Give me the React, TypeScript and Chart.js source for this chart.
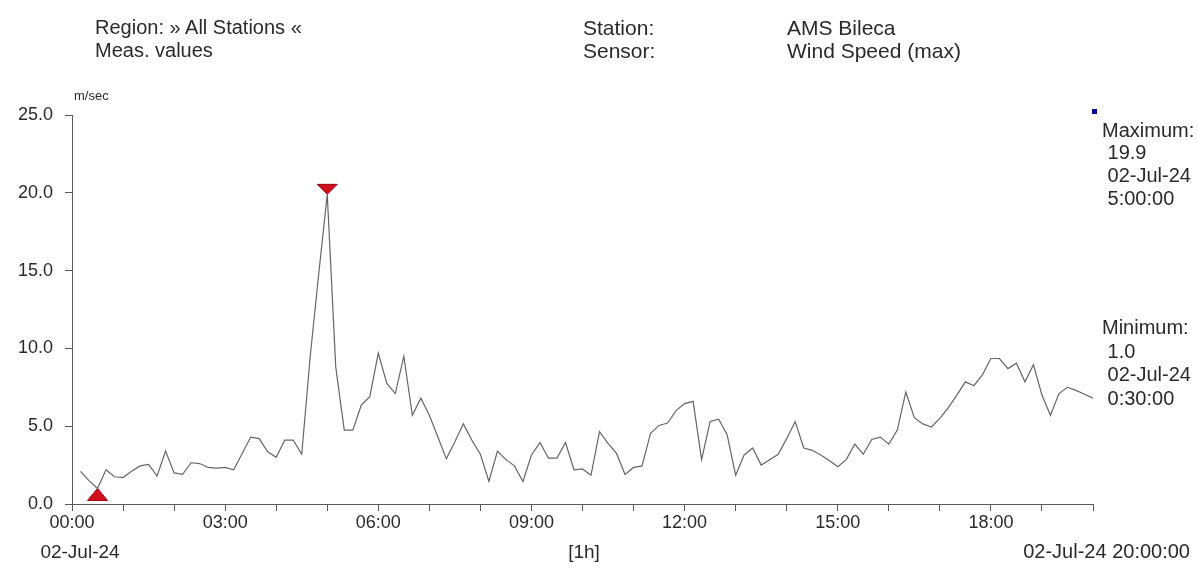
import React, { useEffect, useRef } from "react";
import { Chart, registerables } from "chart.js";

Chart.register(...registerables);

// ---- data ----
const times: string[] = [
  "00:10","00:20","00:30","00:40","00:50","01:00","01:10","01:20","01:30","01:40","01:50","02:00",
  "02:10","02:20","02:30","02:40","02:50","03:00","03:10","03:20","03:30","03:40","03:50","04:00",
  "04:10","04:20","04:30","04:40","04:50","05:00","05:10","05:20","05:30","05:40","05:50","06:00",
  "06:10","06:20","06:30","06:40","06:50","07:00","07:10","07:20","07:30","07:40","07:50","08:00",
  "08:10","08:20","08:30","08:40","08:50","09:00","09:10","09:20","09:30","09:40","09:50","10:00",
  "10:10","10:20","10:30","10:40","10:50","11:00","11:10","11:20","11:30","11:40","11:50","12:00",
  "12:10","12:20","12:30","12:40","12:50","13:00","13:10","13:20","13:30","13:40","13:50","14:00",
  "14:10","14:20","14:30","14:40","14:50","15:00","15:10","15:20","15:30","15:40","15:50","16:00",
  "16:10","16:20","16:30","16:40","16:50","17:00","17:10","17:20","17:30","17:40","17:50","18:00",
  "18:10","18:20","18:30","18:40","18:50","19:00","19:10","19:20","19:30","19:40","19:50","20:00",
];

const windSpeed: number[] = [
  2.1, 1.5, 1.0, 2.2, 1.75, 1.7, 2.1, 2.45, 2.55, 1.8, 3.4, 2.0,
  1.9, 2.65, 2.6, 2.35, 2.3, 2.35, 2.2, 3.25, 4.3, 4.2, 3.35, 3.0,
  4.1, 4.1, 3.2, 9.5, 14.8, 19.9, 8.8, 4.75, 4.75, 6.35, 6.9, 9.7,
  7.75, 7.1, 9.5, 5.7, 6.8, 5.7, 4.3, 2.9, 4.0, 5.15, 4.1, 3.2,
  1.45, 3.4, 2.85, 2.45, 1.45, 3.15, 3.95, 2.95, 2.95, 3.95, 2.2, 2.25,
  1.85, 4.65, 3.9, 3.25, 1.9, 2.35, 2.45, 4.55, 5.05, 5.2, 6.0, 6.45,
  6.6, 2.85, 5.3, 5.45, 4.45, 1.85, 3.15, 3.6, 2.5, 2.85, 3.2, 4.2,
  5.3, 3.6, 3.45, 3.15, 2.8, 2.4, 2.85, 3.85, 3.2, 4.15, 4.3, 3.85,
  4.75, 7.2, 5.55, 5.15, 4.95, 5.5, 6.2, 7.0, 7.85, 7.6, 8.3, 9.35,
  9.35, 8.7, 9.05, 7.85, 8.95, 7.0, 5.7, 7.1, 7.5, 7.3, 7.05, 6.8,
];

const xTickLabels: string[] = ["00:00", "03:00", "06:00", "09:00", "12:00", "15:00", "18:00"];
const yTickValues: number[] = [0, 5, 10, 15, 20, 25];

const headerLeft: string[] = ["Region: » All Stations «", "Meas. values"];
const headerKeys: string[] = ["Station:", "Sensor:"];
const headerValues: string[] = ["AMS Bileca", "Wind Speed (max)"];
const maxInfo: string[] = ["Maximum:", " 19.9", " 02-Jul-24", " 5:00:00"];
const minInfo: string[] = ["Minimum:", " 1.0", " 02-Jul-24", " 0:30:00"];
const unitLabel = "m/sec";
const bottomLabels: string[] = ["02-Jul-24", "[1h]", "02-Jul-24 20:00:00"];

const toMinutes = (t: string) => {
  const [h, m] = t.split(":").map(Number);
  return h * 60 + m;
};

const FONT = '"Liberation Sans", Arial, sans-serif';
const TXT = "#2a2a2a";
const AXIS = "#5a5a5a";

const markerPlugin = {
  id: "minMaxMarkers",
  afterDatasetsDraw(chart: any) {
    const { ctx, scales, chartArea } = chart;
    const xs = scales.x;
    const ys = scales.y;
    let iMax = 0;
    let iMin = 0;
    windSpeed.forEach((v, i) => {
      if (v > windSpeed[iMax]) iMax = i;
      if (v < windSpeed[iMin]) iMin = i;
    });
    ctx.save();
    const mx = xs.getPixelForValue(toMinutes(times[iMax]));
    const my = ys.getPixelForValue(windSpeed[iMax]);
    ctx.fillStyle = "#d0121b";
    ctx.strokeStyle = "#a00010";
    ctx.lineWidth = 1;
    ctx.beginPath();
    ctx.moveTo(mx - 10, my - 10);
    ctx.lineTo(mx + 10, my - 10);
    ctx.lineTo(mx, my);
    ctx.closePath();
    ctx.fill();
    ctx.stroke();
    const nx = xs.getPixelForValue(toMinutes(times[iMin]));
    const ny = ys.getPixelForValue(windSpeed[iMin]);
    ctx.beginPath();
    ctx.moveTo(nx - 10, ny + 12);
    ctx.lineTo(nx + 10, ny + 12);
    ctx.lineTo(nx, ny);
    ctx.closePath();
    ctx.fill();
    ctx.stroke();
    ctx.fillStyle = "#0a0a9a";
    ctx.fillRect(chartArea.right - 1, chartArea.top - 6, 5, 5);
    ctx.restore();
  },
};

function Txt(props: { x: number; y: number; text: string; size?: number; align?: "left" | "center" | "right" }) {
  const size = props.size ?? 20;
  const lh = Math.round(size * 1.2);
  const style: React.CSSProperties = {
    position: "absolute",
    top: props.y - lh / 2,
    fontFamily: FONT,
    fontSize: size,
    lineHeight: `${lh}px`,
    color: TXT,
    whiteSpace: "pre",
  };
  if (props.align === "center") {
    style.left = props.x - 200;
    style.width = 400;
    style.textAlign = "center";
  } else if (props.align === "right") {
    style.left = props.x - 400;
    style.width = 400;
    style.textAlign = "right";
  } else {
    style.left = props.x;
  }
  return <div style={style}>{props.text}</div>;
}

export default function App() {
  const canvasRef = useRef<HTMLCanvasElement | null>(null);

  useEffect(() => {
    if (!canvasRef.current) return;
    const chart = new Chart(canvasRef.current, {
      type: "line",
      data: {
        datasets: [
          {
            label: "Wind Speed (max)",
            data: times.map((t, i) => ({ x: toMinutes(t), y: windSpeed[i] })),
            borderColor: "#666666",
            borderWidth: 1.2,
            pointRadius: 0,
            tension: 0,
            fill: false,
          },
        ],
      },
      options: {
        animation: false,
        responsive: true,
        maintainAspectRatio: false,
        events: [],
        layout: { padding: { top: 115, right: 105, left: 0, bottom: 0 } },
        plugins: { legend: { display: false }, tooltip: { enabled: false } },
        scales: {
          x: {
            type: "linear",
            min: 0,
            max: 1200,
            afterFit: (s: any) => {
              s.height = 64;
            },
            afterBuildTicks: (s: any) => {
              const t = [];
              for (let v = 0; v <= 1200; v += 60) t.push({ value: v });
              s.ticks = t;
            },
            ticks: {
              autoSkip: false,
              maxRotation: 0,
              padding: 1,
              color: TXT,
              font: { family: FONT, size: 18 },
              callback: (v: any) => {
                const n = Number(v);
                if (n % 180 !== 0) return "";
                return xTickLabels[n / 180] ?? "";
              },
            },
            grid: { drawOnChartArea: false, tickLength: 7, color: AXIS },
            border: { color: AXIS, width: 1 },
          },
          y: {
            min: 0,
            max: 25,
            afterFit: (s: any) => {
              s.width = 72;
            },
            afterBuildTicks: (s: any) => {
              s.ticks = yTickValues.map((v) => ({ value: v }));
            },
            ticks: {
              padding: 12,
              color: TXT,
              font: { family: FONT, size: 18 },
              callback: (v: any) => Number(v).toFixed(1),
            },
            grid: { drawOnChartArea: false, tickLength: 7, color: AXIS },
            border: { color: AXIS, width: 1 },
          },
        },
      },
      plugins: [markerPlugin],
    });
    return () => chart.destroy();
  }, []);

  return (
    <div style={{ position: "absolute", left: 0, top: 0, width: 1198, height: 568, background: "#fff", overflow: "hidden" }}>
      <canvas ref={canvasRef} style={{ position: "absolute", left: 0, top: 0 }} />
      <Txt x={95} y={27} text={headerLeft[0]} />
      <Txt x={95} y={50} text={headerLeft[1]} />
      <Txt x={583} y={27} text={headerKeys[0]} size={21} />
      <Txt x={583} y={50} text={headerKeys[1]} size={21} />
      <Txt x={787} y={27} text={headerValues[0]} size={21} />
      <Txt x={787} y={50} text={headerValues[1]} size={21} />
      <Txt x={74} y={96} text={unitLabel} size={13} />
      {maxInfo.map((t, i) => (
        <Txt key={"mx" + i} x={1102} y={[130, 152, 175, 198][i]} text={t} />
      ))}
      {minInfo.map((t, i) => (
        <Txt key={"mn" + i} x={1102} y={[327, 351, 374, 398][i]} text={t} />
      ))}
      <Txt x={80} y={551} text={bottomLabels[0]} size={19} align="center" />
      <Txt x={584} y={551} text={bottomLabels[1]} size={19} align="center" />
      <Txt x={1190} y={551} text={bottomLabels[2]} size={20} align="right" />
    </div>
  );
}
